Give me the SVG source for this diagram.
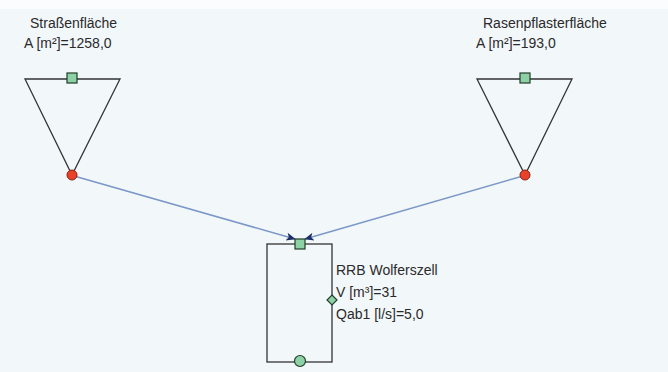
<svg xmlns="http://www.w3.org/2000/svg" width="668" height="372" viewBox="0 0 668 372">
<style>
.bg{fill:#f2f7fa}
.shape{fill:none;stroke:#333;stroke-width:1.3}
.port{fill:#8fd1a6;stroke:#1f3d27;stroke-width:1.2}
.out{fill:#e8432a;stroke:#8a1f10;stroke-width:1}
.lbl{font-family:"Liberation Sans",Arial,sans-serif;font-size:14px;fill:#2a2a2a}
.conn{stroke:#7c98c8;stroke-width:1.5;fill:none;marker-end:url(#ah)}
</style>
<defs>
<marker id="ah" viewBox="0 0 12 10" refX="11" refY="5" markerWidth="12" markerHeight="8" orient="auto" markerUnits="userSpaceOnUse">
<path d="M0,0 L12,5 L0,10 L3,5 z" fill="#1c2f66"/>
</marker>
</defs>
<rect class="bg" x="0" y="0" width="668" height="372"/>
<rect x="0" y="0" width="668" height="9" fill="#fbfcfd"/>
<g id="connectors">
<line class="conn" x1="74" y1="176" x2="295" y2="239"/>
<line class="conn" x1="523" y1="176" x2="305" y2="239"/>
</g>
<g id="strassenflaeche">
<polygon class="shape" points="25,79 120,79 72,175"/>
<rect class="port" x="67" y="73" width="10" height="10"/>
<circle class="out" cx="72" cy="175" r="5"/>
<text class="lbl" x="30" y="28">Straßenfläche</text>
<text class="lbl" x="24" y="48">A [m²]=1258,0</text>
</g>
<g id="rasenpflasterflaeche">
<polygon class="shape" points="477,79 572,79 525,175"/>
<rect class="port" x="520" y="73" width="10" height="10"/>
<circle class="out" cx="525" cy="175" r="5"/>
<text class="lbl" x="483" y="28">Rasenpflasterfläche</text>
<text class="lbl" x="476" y="48">A [m²]=193,0</text>
</g>
<g id="rrb">
<rect class="shape" x="267" y="244" width="65" height="118"/>
<rect class="port" x="295" y="239" width="10" height="10"/>
<circle class="port" cx="300" cy="361" r="5.5"/>
<polygon class="port" points="332,295 337,300 332,305 327,300"/>
<text class="lbl" x="336" y="275">RRB Wolferszell</text>
<text class="lbl" x="336" y="297">V [m³]=31</text>
<text class="lbl" x="336" y="319">Qab1 [l/s]=5,0</text>
</g>
</svg>
